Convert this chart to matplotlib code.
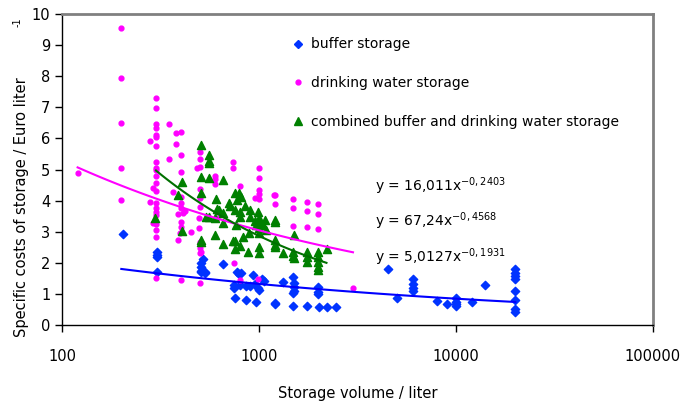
import numpy as np
import matplotlib
matplotlib.use('Agg')
from matplotlib import pyplot as plt
from matplotlib.lines import Line2D

# (storage volume in liter, specific cost in Euro/liter)
buffer_pts = [
    (203, 2.93), (305, 2.36), (305, 2.25), (305, 2.18), (305, 1.71),
    (518, 2.11), (505, 1.88), (505, 1.69), (530, 1.69), (659, 1.96),
    (505, 2.0), (505, 1.75), (530, 1.68),
    (770, 1.71), (810, 1.68), (790, 1.64), (935, 1.61), (1030, 1.47), (1060, 1.42),
    (750, 1.29), (800, 1.29), (750, 1.18), (860, 1.25), (900, 1.25), (955, 1.32),
    (990, 1.18), (1000, 1.13),
    (755, 0.86), (860, 0.80), (965, 0.75), (1210, 0.66), (1205, 0.70), (1317, 1.39),
    (1480, 1.55), (1500, 1.36), (1500, 1.23), (1500, 1.09), (1480, 1.04), (1480, 0.61),
    (1758, 0.61), (2020, 0.57), (2220, 0.57), (2460, 0.59),
    (2000, 1.23), (2000, 1.07), (2000, 1.0),
    (4530, 1.79), (5040, 0.88), (6030, 1.47), (6030, 1.32), (6030, 1.18), (6030, 1.10),
    (8040, 0.78), (9030, 0.68),
    (10000, 0.86), (10000, 0.75), (10000, 0.68), (10000, 0.61), (12000, 0.75), (14000, 1.29),
    (20000, 1.79), (20000, 1.68), (20000, 1.58), (20000, 1.47), (20000, 1.09),
    (20000, 0.80), (20000, 0.50), (20000, 0.43),
]

drink_pts = [
    (121, 4.88), (200, 9.54), (200, 7.93), (200, 6.51), (200, 5.04), (200, 4.02),
    (300, 7.31), (300, 6.98), (300, 6.45), (300, 6.32), (300, 6.11), (300, 6.05),
    (300, 5.77), (300, 5.23), (300, 4.98), (300, 4.80), (300, 4.32), (300, 3.91),
    (300, 3.75), (300, 3.54), (300, 3.25), (300, 3.05), (300, 2.82), (300, 1.50),
    (300, 5.04), (300, 4.56), (300, 3.62),
    (280, 5.93), (280, 3.97), (290, 4.42), (290, 3.27), (351, 6.46), (351, 5.34),
    (365, 4.29), (379, 6.16), (379, 5.82),
    (400, 6.22), (400, 5.47), (400, 4.93), (400, 4.13), (400, 3.91), (400, 3.75),
    (390, 3.57), (410, 3.59), (420, 3.65), (400, 3.32), (400, 3.14), (395, 2.97),
    (390, 2.72), (400, 1.45),
    (450, 3.0), (483, 5.04),
    (500, 5.09), (500, 5.57), (500, 5.34), (500, 4.36), (500, 4.07), (500, 3.80),
    (495, 3.43), (495, 3.11), (500, 2.68), (500, 2.47), (500, 2.31), (500, 1.36),
    (505, 2.36),
    (600, 4.80), (600, 4.53), (600, 4.69), (610, 3.43), (741, 5.25), (741, 5.06),
    (750, 1.98), (800, 4.48), (800, 1.45),
    (1000, 5.04), (1000, 4.74), (1000, 4.34), (1000, 4.21), (1000, 4.05),
    (990, 1.47), (955, 4.08), (1205, 4.18), (1205, 3.89), (1197, 4.17),
    (1490, 4.04), (1490, 3.75), (1490, 3.18), (1745, 3.97), (1745, 3.67), (1745, 3.14),
    (2000, 3.89), (2000, 3.57), (2000, 3.09), (3000, 1.18),
]

comb_pts = [
    (297, 3.43), (390, 4.18), (405, 4.61), (405, 3.02), (505, 4.23), (510, 5.79),
    (505, 2.73), (505, 2.68), (505, 4.77),
    (558, 5.48), (558, 5.28), (558, 5.22), (556, 4.72), (659, 4.66), (606, 4.04),
    (615, 3.72), (540, 3.48), (598, 3.43), (598, 2.89), (558, 3.48), (627, 3.70),
    (659, 3.59), (659, 3.27), (659, 2.62),
    (705, 3.91), (710, 3.83), (755, 4.23), (755, 3.70), (762, 3.22), (770, 4.02),
    (795, 4.23), (800, 3.64), (800, 3.48), (815, 4.11), (830, 2.84), (850, 3.83),
    (877, 2.36), (885, 2.95), (755, 2.70), (800, 2.54), (735, 2.70), (755, 2.43),
    (900, 3.48), (905, 3.70), (955, 3.35), (965, 3.22), (990, 3.64),
    (1000, 3.43), (1000, 3.11), (1000, 3.27), (1000, 2.95), (1000, 2.52), (1000, 2.31),
    (1050, 3.22), (1070, 3.38), (1090, 3.05),
    (1205, 3.38), (1205, 3.32), (1205, 2.73), (1205, 2.57), (1205, 2.52), (1317, 2.31),
    (1500, 2.89), (1480, 2.36), (1480, 2.22), (1500, 2.14),
    (1758, 2.36), (1758, 2.18), (1758, 2.04),
    (2000, 2.36), (2000, 2.20), (2000, 2.04), (2000, 1.88), (2000, 1.77), (2222, 2.43),
]

# power-law trend lines y = a * x^b, with the x range they are drawn over
fits = [
    (16.011, -0.2403, 120, 3000, '#FF00FF', 'y = 16,011x', '-0,2403'),
    (67.24, -0.4568, 300, 2200, '#007000', 'y = 67,24x', '-0,4568'),
    (5.0127, -0.1931, 200, 20000, '#0000FF', 'y = 5,0127x', '-0,1931'),
]

plt.rcParams['font.family'] = ['DejaVu Sans']

fig = plt.figure(figsize=(6.8, 4.03), dpi=100)
ax = fig.add_axes([62 / 680, 1 - 325 / 403, (653 - 62) / 680, (325 - 14) / 403])


def split(pts):
    return [p[0] for p in pts], [p[1] for p in pts]


bx, by = split(buffer_pts)
dx, dy = split(drink_pts)
cx, cy = split(comb_pts)
ax.scatter(bx, by, marker='D', s=18, color='#0033FF', zorder=3)
ax.scatter(dx, dy, marker='o', s=12, color='#FF00FF', zorder=3)
ax.scatter(cx, cy, marker='^', s=34, color='#008000', zorder=3)

for a, b, x0, x1, col, eq, exp in fits:
    xs = np.logspace(np.log10(x0), np.log10(x1), 50)
    ax.plot(xs, a * xs ** b, color=col, lw=1.5, zorder=4)

ax.set_xscale('log')
ax.set_xlim(100, 100000)
ax.set_ylim(0, 10)
ax.set_yticks(range(0, 11))
ax.set_xticks([100, 1000, 10000, 100000])
ax.set_xticklabels(['100', '1000', '10000', '100000'])
ax.xaxis.set_minor_locator(matplotlib.ticker.NullLocator())
ax.tick_params(axis='both', labelsize=10.5, length=5, width=1, color='black')
ax.tick_params(axis='x', pad=12)

for s in ['left', 'bottom']:
    ax.spines[s].set_color('black')
    ax.spines[s].set_linewidth(1)
for s in ['top', 'right']:
    ax.spines[s].set_color('#808080')
    ax.spines[s].set_linewidth(2)

handles = [
    Line2D([], [], ls='', marker='D', ms=4, color='#0033FF'),
    Line2D([], [], ls='', marker='o', ms=3.5, color='#FF00FF'),
    Line2D([], [], ls='', marker='^', ms=5.5, color='#008000'),
]
labels = ['buffer storage', 'drinking water storage',
          'combined buffer and drinking water storage']
ax.legend(handles, labels, loc='upper left', bbox_to_anchor=(0.366, 0.965),
          frameon=False, fontsize=10, labelspacing=1.77, handlelength=1,
          handletextpad=0.45)

eq_y = [186, 221, 257]
for (a, b, x0, x1, col, eq, exp), py in zip(fits, eq_y):
    fig.text(375 / 680, 1 - py / 403,
             eq + r'$^{\mathregular{' + exp + '}}$',
             fontsize=10, va='center', ha='left')

ax.set_xlabel('Storage volume / liter', fontsize=10.5, labelpad=16)
fig.text(22 / 680, 1 - 207 / 403, 'Specific costs of storage / Euro liter',
         rotation=90, fontsize=10.5, ha='center', va='center')
fig.text(18 / 680, 1 - 22 / 403, '-1', rotation=90, fontsize=7,
         ha='center', va='center')

fig.savefig('out.png', dpi=100)
